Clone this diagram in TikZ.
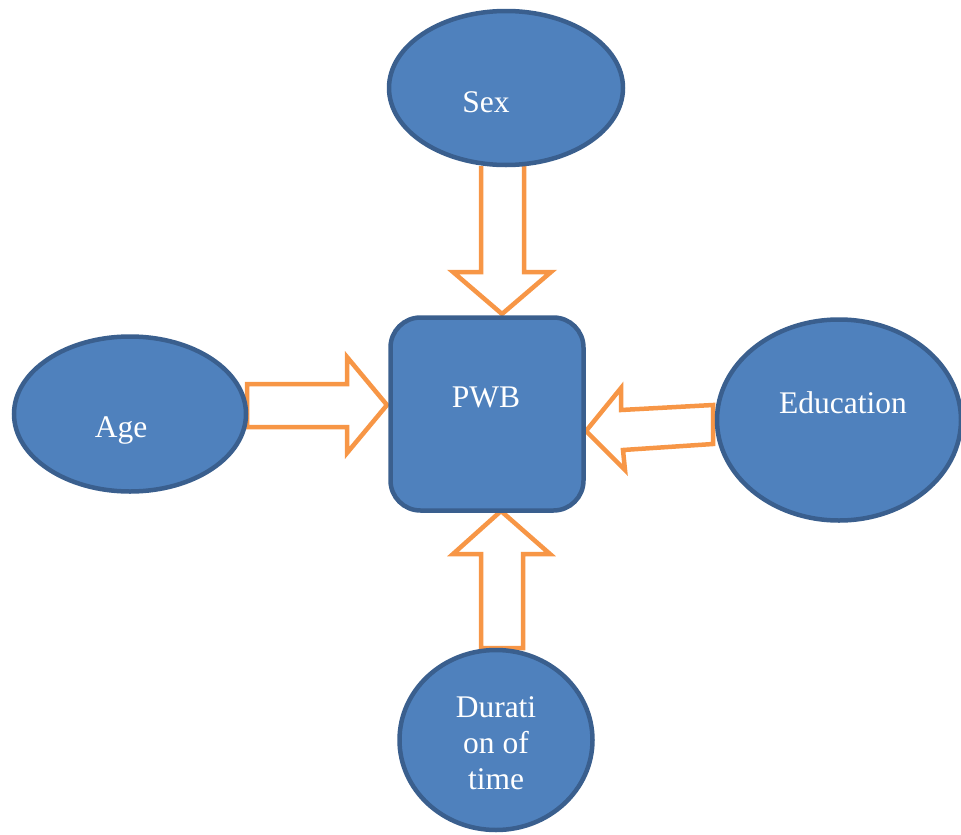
\documentclass[tikz,border=0pt]{standalone}
\usepackage{fontspec}
\setmainfont{Liberation Serif}
\usetikzlibrary{shapes.geometric}
\definecolor{nodefill}{HTML}{4F81BD}
\definecolor{nodeline}{HTML}{3A5F8E}
\definecolor{arroworange}{HTML}{F79646}
\tikzset{
  oval/.style={ellipse, draw=nodeline, fill=nodefill, line width=4.5pt, inner sep=0pt},
  squarebox/.style={rectangle, rounded corners=30pt, draw=nodeline, fill=nodefill, line width=4.5pt, inner sep=0pt, minimum width=193pt, minimum height=193pt},
  blockarrow/.style={draw=arroworange, fill=white, line width=4.5pt, line join=miter},
  lbl/.style={text=white, font=\fontsize{31.5}{36}\selectfont, inner sep=0pt, anchor=base, align=center}
}
\begin{document}
\begin{tikzpicture}[x=1pt,y=-1pt]
\useasboundingbox (0,0) rectangle (961,835);
% block arrows
\draw[blockarrow] (481,166) -- (481,272) -- (453,272) -- (502,314) -- (551,272) -- (524,272) -- (524,166);
\draw[blockarrow] (481,648) -- (481,554) -- (453,554) -- (501,511) -- (550,554) -- (523,554) -- (523,648) -- cycle;
\draw[blockarrow] (247,384) -- (347,384) -- (347,357) -- (387,405) -- (347,453) -- (347,427) -- (247,427) -- cycle;
\draw[blockarrow] (713,405) -- (621,410) -- (621,388) -- (586,431) -- (625,470) -- (623,450) -- (713,444) -- cycle;
% shapes
\node[oval, minimum width=234pt, minimum height=154pt] (sex) at (506,88) {};
\node[oval, minimum width=232pt, minimum height=155pt] (age) at (130,414) {};
\node[oval, minimum width=244pt, minimum height=201pt] (edu) at (839,420) {};
\node[oval, minimum width=193pt, minimum height=180pt] (dur) at (496,740) {};
\node[squarebox] (pwb) at (487,414) {};
% labels
\node[lbl] (sext) at (486,112) {Sex};
\node[lbl] (aget) at (121,437) {Age};
\node[lbl] (pwbt) at (486,407) {PWB};
\node[lbl] (edut) at (843,413) {Education};
\node[lbl] (dur1) at (496,717) {Durati};
\node[lbl] (dur2) at (496,753) {on of};
\node[lbl] (dur3) at (496,789) {time};
\end{tikzpicture}
\end{document}
